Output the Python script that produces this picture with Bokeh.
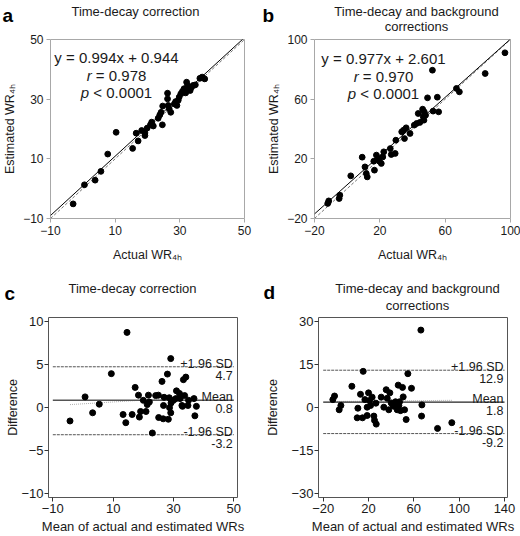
from bokeh.plotting import figure
from bokeh.models import Range1d, FixedTicker, Label
from bokeh.layouts import column, row
from bokeh.embed import file_html
from bokeh.resources import INLINE

FONT = "Liberation Sans"

# ---------------- data ----------------
# Panel a: time-decay correction
a_actual = [-3.0, 0.5, 3.8, 5.6, 7.7, 10.3, 15.4, 16.5, 17.1, 18.2, 19.2, 19.2, 19.9, 20.9, 21.3,
            21.8, 23.3, 23.8, 24.6, 24.7, 24.2, 26.2, 26.2, 26.4, 26.7, 27.2, 28.3, 28.7, 29.1, 29.5,
            29.8, 30.3, 30.8, 31.3, 31.8, 32.1, 32.4, 32.8, 33.2, 33.6, 34.1, 34.8, 36.2, 36.9, 37.7]
a_estimated = [-5.1, 1.3, 2.85, 5.8, 11.6, 18.9, 13.5, 18.6, 16.0, 19.5, 17.8, 18.7, 20.3, 21.4, 22.3,
               21.0, 23.6, 24.7, 21.4, 27.7, 25.6, 32.0, 30.1, 27.9, 26.8, 25.6, 28.4, 29.2, 27.9, 29.6,
               30.7, 31.8, 32.6, 33.5, 32.1, 35.7, 34.6, 33.7, 32.9, 34.0, 34.6, 34.8, 37.0, 37.4, 36.8]
a_slope, a_intercept = 0.994, 0.944
a_stats = ["y = 0.994x + 0.944", "= 0.978", "< 0.0001"]
a_ticks = [-10, 10, 30, 50]

# Panel b: time-decay and background corrections
b_actual = [-11.9, -11.3, -4.9, -4.5, 2.2, 9.2, 10.9, 11.7, 12.3, 16.3, 16.7, 17.9, 18.9, 19.7, 20.9,
            21.8, 22.4, 26.4, 27.0, 29.4, 29.8, 33.4, 34.5, 35.1, 36.1, 38.5, 41.1, 42.5, 44.5, 43.5,
            46.2, 47.2, 46.6, 47.0, 48.0, 49.2, 52.2, 52.6, 55.2, 56.0, 66.9, 68.7, 84.5, 96.6]
b_estimated = [-9.9, -8.2, -6.6, -4.4, 8.6, 21.1, 14.6, 10.2, 7.9, 18.4, 12.4, 22.5, 20.2, 18.4, 16.9,
               21.3, 24.7, 26.9, 22.9, 23.6, 32.5, 38.1, 39.2, 33.6, 40.8, 37.0, 42.6, 43.7, 44.4, 50.4,
               53.3, 51.5, 48.2, 45.9, 49.3, 60.9, 79.4, 52.0, 61.3, 51.5, 67.2, 64.9, 77.2, 91.1]
b_slope, b_intercept = 0.977, 2.601
b_stats = ["y = 0.977x + 2.601", "= 0.970", "< 0.0001"]
b_ticks = [-20, 20, 60, 100]

# Panel c: Bland-Altman, time-decay correction
c_mean = [-4.3, 0.7, 3.2, 5.4, 9.4, 14.6, 13.3, 14.2, 16.3, 17.3, 18.4, 18.7, 19.1, 20.0, 20.9,
          21.3, 21.7, 22.0, 23.0, 24.1, 25.0, 25.1, 26.2, 26.6, 26.7, 26.9, 28.0, 28.3, 28.6, 28.7,
          29.1, 29.1, 29.2, 30.0, 30.8, 31.0, 32.0, 32.2, 32.8, 33.0, 33.3, 33.7, 34.1, 34.8, 35.0,
          36.8, 37.1, 37.6]
c_diff = [-1.6, 1.2, -0.65, 0.35, 3.9, 8.7, -0.85, -1.8, -0.85, 2.3, 1.4, -1.15, -0.5, 0.8, -0.5,
          0.3, 1.4, 0.6, -3.0, 1.35, 1.4, -1.2, 3.0, -1.35, 0.2, 1.15, 3.85, -1.4, 1.1, -0.05,
          5.65, -0.65, 0.5, 0.8, 1.0, 1.9, 1.6, 1.0, 0.2, 0.1, 3.2, 1.35, 3.5, 0.2, 0.8,
          1.0, -1.0, 0.1]
c_limits = {"upper": 4.7, "mean": 0.8, "lower": -3.2}
c_trend_x = [-4.3, 37.6]
c_trend_y = [0.3, 1.2]
c_xticks = [-10, 10, 30, 50]
c_yticks = [-10, -5, 0, 5, 10]

# Panel d: Bland-Altman, time-decay and background corrections
d_mean = [-11.5, -10.0, -5.9, -4.4, 5.3, 10.6, 10.0, 12.9, 14.7, 15.3, 16.8, 18.8, 18.8, 20.0, 20.9,
          21.8, 23.2, 24.7, 25.3, 26.5, 26.8, 31.2, 33.5, 35.6, 36.5, 37.9, 38.8, 40.0, 41.5, 42.6,
          43.8, 45.3, 46.2, 46.8, 47.4, 48.2, 50.0, 50.6, 51.8, 53.2, 54.7, 57.9, 66.2, 67.1, 66.8,
          80.9, 93.5]
d_diff = [2.65, 3.9, -0.9, 0.6, 7.3, -0.35, -3.7, 4.5, -3.7, 12.5, 2.65, 0.0, -2.9, 5.0, 2.3,
          0.6, 3.5, -3.1, -4.6, 1.4, -5.9, 3.5, 0.0, 6.1, 3.1, -0.9, 5.0, 1.5, 0.8, 0.3,
          1.9, -0.9, 7.7, 0.6, 1.9, -1.2, 6.9, 3.6, -0.9, -4.3, 11.7, 6.6, 26.9, 0.8, -3.1,
          -7.4, -5.4]
d_limits = {"upper": 12.9, "mean": 1.8, "lower": -9.2}
d_trend_x = [-11.5, 93.5]
d_trend_y = [2.0, 2.4]
d_xticks = [-20, 20, 60, 100, 140]
d_yticks = [-30, -15, 0, 15, 30]

panel_letters = ["a", "b", "c", "d"]
panel_titles = [["Time-decay correction"], ["Time-decay and background", "corrections"],
                ["Time-decay correction"], ["Time-decay and background", "corrections"]]
SUB = "WR\u2084\u2095"
x_titles = ["Actual " + SUB, "Actual " + SUB,
            "Mean of actual and estimated WRs", "Mean of actual and estimated WRs"]
y_titles = ["Estimated " + SUB, "Estimated " + SUB, "Difference", "Difference"]


# ---------------- helpers ----------------
def make_fig(w, h, xr, yr, xticks, yticks, borders, outline, tick_color, label_size,
             xtitle, ytitle, title_size, xstand, ystand, lstand):
    l, r, t, b = borders
    p = figure(width=w, height=h, x_range=Range1d(*xr), y_range=Range1d(*yr),
               output_backend="svg", toolbar_location=None, title=None,
               min_border_left=l, min_border_right=r, min_border_top=t, min_border_bottom=b)
    p.xgrid.visible = False
    p.ygrid.visible = False
    p.outline_line_color = outline
    p.outline_line_width = 1
    p.background_fill_color = "white"
    p.border_fill_color = "white"
    for ax, ticks, ttl, st in ((p.xaxis[0], xticks, xtitle, xstand),
                               (p.yaxis[0], yticks, ytitle, ystand)):
        ax.ticker = FixedTicker(ticks=ticks)
        ax.axis_line_color = None
        ax.major_tick_out = 4
        ax.major_tick_in = 0
        ax.major_tick_line_color = tick_color
        ax.minor_tick_line_color = None
        ax.major_label_text_font = FONT
        ax.major_label_text_font_size = label_size
        ax.major_label_text_color = "#1a1a1a"
        ax.major_label_standoff = lstand
        ax.axis_label = ttl
        ax.axis_label_text_font = FONT
        ax.axis_label_text_font_size = title_size
        ax.axis_label_text_font_style = "normal"
        ax.axis_label_text_color = "#1a1a1a"
        ax.axis_label_standoff = st
    return p


def lab(p, text, dx, dy, size, align="left", style="normal"):
    p.add_layout(Label(x=p.x_range.start, y=p.y_range.end, x_offset=dx, y_offset=dy,
                       text=text, text_font=FONT, text_font_size=size,
                       text_font_style=style, text_align=align, text_baseline="alphabetic",
                       text_color="#1a1a1a"))


def stats_block(p, stats, cx, base_y, size=15):
    em = size
    lab(p, stats[0], cx, base_y[0], f"{size}px", align="center")
    x0 = cx - 3.975 * em / 2
    lab(p, "r", x0, base_y[1], f"{size}px", style="italic")
    lab(p, stats[1], x0 + 0.611 * em, base_y[1], f"{size}px")
    x0 = cx - 4.754 * em / 2
    lab(p, "p", x0, base_y[2], f"{size}px", style="italic")
    lab(p, stats[2], x0 + 0.834 * em, base_y[2], f"{size}px")


def header(w, top, bottom, items):
    # a text strip: data coordinates equal page pixels
    h = figure(width=w, height=bottom - top, x_range=Range1d(0, w), y_range=Range1d(bottom, top),
               output_backend="svg", toolbar_location=None, title=None,
               x_axis_location=None, y_axis_location=None,
               min_border_left=0, min_border_right=0, min_border_top=0, min_border_bottom=0)
    h.xgrid.visible = False
    h.ygrid.visible = False
    h.outline_line_color = None
    for text, x, y, size, style, align in items:
        h.add_layout(Label(x=x, y=y, text=text, text_font=FONT, text_font_size=size,
                           text_font_style=style, text_align=align, text_baseline="alphabetic",
                           text_color="black" if style == "bold" else "#1a1a1a"))
    return h


# ---------------- headers ----------------
top_items = [
    (panel_letters[0], 2, 15, "19px", "bold", "left"),
    (panel_titles[0][0], 135, 11, "13px", "normal", "center"),
    (panel_letters[1], 262, 15, "19px", "bold", "left"),
    (panel_titles[1][0], 416, 10.5, "13px", "normal", "center"),
    (panel_titles[1][1], 416, 26, "13px", "normal", "center"),
]
bottom_items = [
    (panel_letters[2], 4, 292.5, "19px", "bold", "left"),
    (panel_titles[2][0], 132, 287.5, "13px", "normal", "center"),
    (panel_letters[3], 263, 291.5, "19px", "bold", "left"),
    (panel_titles[3][0], 417, 287.5, "13px", "normal", "center"),
    (panel_titles[3][1], 417, 304.5, "13px", "normal", "center"),
]
head_top = header(520, 0, 34, top_items)
head_bottom = header(520, 270, 314, bottom_items)

# ---------------- panel a ----------------
pa = make_fig(260, 236, (a_ticks[0], a_ticks[-1]), (a_ticks[0], a_ticks[-1]), a_ticks, a_ticks,
              (50, 16, 5, 52), "#a8a8a8", "#a8a8a8", "12px",
              x_titles[0], y_titles[0], "12.5px", 10, 3, 3)
pa.line([a_ticks[0], a_ticks[-1]], [a_ticks[0], a_ticks[-1]], line_color="#777777",
        line_dash="3 2", line_width=1)
pa.line([a_ticks[0], a_ticks[-1]],
        [a_slope * a_ticks[0] + a_intercept, a_slope * a_ticks[-1] + a_intercept],
        line_color="black", line_width=1)
pa.scatter(a_actual, a_estimated, size=5.8, color="black")
stats_block(pa, a_stats, 66, [-17.5, -35.5, -53])

# ---------------- panel b ----------------
pb = make_fig(260, 236, (b_ticks[0], b_ticks[-1]), (b_ticks[0], b_ticks[-1]), b_ticks, b_ticks,
              (54, 10, 5, 52), "#a8a8a8", "#a8a8a8", "12px",
              x_titles[1], y_titles[1], "12.5px", 10, 3, 3)
pb.line([b_ticks[0], b_ticks[-1]], [b_ticks[0], b_ticks[-1]], line_color="#777777",
        line_dash="3 2", line_width=1)
pb.line([b_ticks[0], b_ticks[-1]],
        [b_slope * b_ticks[0] + b_intercept, b_slope * b_ticks[-1] + b_intercept],
        line_color="black", line_width=1)
pb.scatter(b_actual, b_estimated, size=5.8, color="black")
stats_block(pb, b_stats, 69, [-19, -36.5, -54])


# ---------------- Bland-Altman panels ----------------
def ba_panel(w, borders, xr, yr, xticks, yticks, xs, ys, limits, tx, ty, mean_color, mean_w,
             xtitle, ytitle, ystand):
    p = make_fig(w, 222, xr, yr, xticks, yticks, borders, "#555555", "#333333", "13px",
                 xtitle, ytitle, "13px", 3, ystand, 2)
    p.yaxis[0].axis_label_text_font_size = "12.5px"
    p.yaxis[0].major_label_standoff = 1
    x0, x1 = xticks[0], xticks[-1]
    p.line([x0, x1], [limits["upper"]] * 2, line_color="#555555", line_dash="3 1", line_width=1)
    p.line([x0, x1], [limits["lower"]] * 2, line_color="#555555", line_dash="3 1", line_width=1)
    p.line(tx, ty, line_color="#b0b0b0", line_dash="1 1", line_width=1)
    p.line([x0, x1], [limits["mean"]] * 2, line_color=mean_color, line_width=mean_w)
    p.scatter(xs, ys, size=6, color="black")
    for key, head in (("upper", "+1.96 SD"), ("mean", "Mean"), ("lower", "-1.96 SD")):
        v = limits[key]
        p.add_layout(Label(x=x1, y=v, x_offset=-1, y_offset=3, text=head, text_font=FONT,
                           text_font_size="12.5px", text_align="right",
                           text_baseline="alphabetic", text_color="#1a1a1a"))
        p.add_layout(Label(x=x1, y=v, x_offset=-1, y_offset=-4, text=f"{v:.1f}",
                           text_font=FONT, text_font_size="12.5px", text_align="right",
                           text_baseline="top", text_color="#1a1a1a"))
    return p


pc = ba_panel(260, (48, 23, 3, 39), (-11.43, 51.23), (-10.5, 10.43), c_xticks, c_yticks,
              c_mean, c_diff, c_limits, c_trend_x, c_trend_y, "#555555", 1.5,
              x_titles[2], y_titles[2], -2)
pd = ba_panel(260, (58, 13, 3, 39), (-24.15, 142.65), (-31.5, 31.29), d_xticks, d_yticks,
              d_mean, d_diff, d_limits, d_trend_x, d_trend_y, "#222222", 1.2,
              x_titles[3], y_titles[3], 8)

layout = column(head_top, row(pa, pb), head_bottom, row(pc, pd))
open("out.html", "w").write(file_html(layout, INLINE))
